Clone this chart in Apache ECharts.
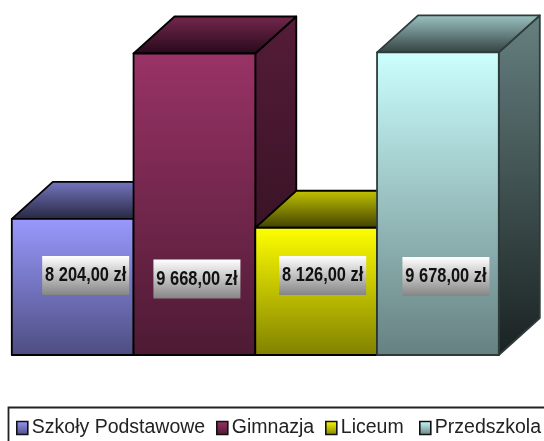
<!DOCTYPE html>
<html><head><meta charset="utf-8">
<style>html,body{margin:0;padding:0;background:#fff;overflow:hidden}#c{width:544px;height:441px;filter:blur(0.4px)}</style>
<script src="https://cdn.jsdelivr.net/npm/echarts@6/dist/echarts.min.js"></script>
</head><body><div id="c"></div>
<script>
const categories = ['Szkoły Podstawowe', 'Gimnazja', 'Liceum', 'Przedszkola'];
const values = [8204, 9668, 8126, 9678];
const valueLabels = ['8 204,00 zł', '9 668,00 zł', '8 126,00 zł', '9 678,00 zł'];
const frontTop = ['#9999ff', '#993366', '#ffff00', '#ccffff'];
const frontBottom = ['#4d4d80', '#4d1a33', '#808000', '#668080'];
const topBack = ['#7676c2', '#75284e', '#c4c400', '#9dc4c4'];
const topFront = ['#26263f', '#26091a', '#3f3f00', '#334040'];
const sideTop = ['#4d4d80', '#551c38', '#808000', '#668080'];
const sideBottom = ['#1a1a2a', '#2a0e1c', '#2a2a00', '#1a2222'];
const edge = ['#000', '#000', '#000', '#2f3b3b'];
const labelDx = [13, 2.5, 6.5, 8];
const labelCy = [275.5, 279, 275.5, 276.5];
const legendLeft = [16, 216, 325, 419];
const DX = 41, DY = 37;

const vgrad = (a, b) => new echarts.graphic.LinearGradient(0, 0, 0, 1, [{offset: 0, color: a}, {offset: 1, color: b}]);

const series = categories.map((name, i) => ({
  name, type: 'custom', coordinateSystem: 'cartesian2d', clip: false,
  itemStyle: {color: vgrad(frontTop[i], frontBottom[i])},
  data: [[i, values[i]]],
  encode: {x: 0, y: 1},
  renderItem(params, api) {
    const idx = api.value(0);
    const p = api.coord([idx, api.value(1)]);
    const base = api.coord([idx, 7000]);
    const w = api.size([1, 0])[0];
    const l = p[0] - w / 2, r = p[0] + w / 2, t = p[1], b = base[1];
    const line = {stroke: edge[i], lineWidth: 1.8, lineJoin: 'round'};
    const cx = p[0] + labelDx[i], cy = labelCy[i];
    return {type: 'group', children: [
      {type: 'polygon', shape: {points: [[r, t], [r + DX, t - DY], [r + DX, b - DY], [r, b]]},
        style: {fill: vgrad(sideTop[i], sideBottom[i]), ...line}},
      {type: 'polygon', shape: {points: [[l, t], [l + DX, t - DY], [r + DX, t - DY], [r, t]]},
        style: {fill: vgrad(topBack[i], topFront[i]), ...line}},
      {type: 'rect', shape: {x: l, y: t, width: r - l, height: b - t},
        style: {fill: vgrad(frontTop[i], frontBottom[i]), ...line}},
      {type: 'rect', shape: {x: cx - 43.5, y: cy - 19.5, width: 87, height: 39},
        style: {fill: vgrad('#ffffff', '#858585'), stroke: null}},
      {type: 'text', x: cx, y: cy, scaleX: 0.82,
        style: {x: 0, y: 0, text: valueLabels[i], align: 'center', verticalAlign: 'middle',
        fill: '#111', font: 'bold 20px "Liberation Sans", Arial, sans-serif'}}
    ]};
  }
}));

const chart = echarts.init(document.getElementById('c'), null, {renderer: 'canvas'});
chart.setOption({
  animation: false,
  backgroundColor: '#fff',
  grid: {left: 11.8, width: 487, top: 16, height: 339},
  xAxis: {type: 'category', data: categories, show: false},
  yAxis: {type: 'value', min: 7000, max: 10000, show: false},
  legend: categories.map((name, i) => ({
    data: [name], left: legendLeft[i], top: 418, padding: 0, itemWidth: 11, itemHeight: 13, itemGap: 0,
    icon: 'rect',
    itemStyle: {borderColor: '#111', borderWidth: 1.6},
    textStyle: {color: '#222', fontSize: 19.5, fontFamily: '"Liberation Sans", Arial, sans-serif', padding: [0, 0, 0, -1]}
  })),
  graphic: [{type: 'rect', silent: true, z: -1, shape: {x: 8.5, y: 407.5, width: 560, height: 60},
    style: {fill: '#fff', stroke: '#222', lineWidth: 1.8}}],
  series
});
</script></body></html>
